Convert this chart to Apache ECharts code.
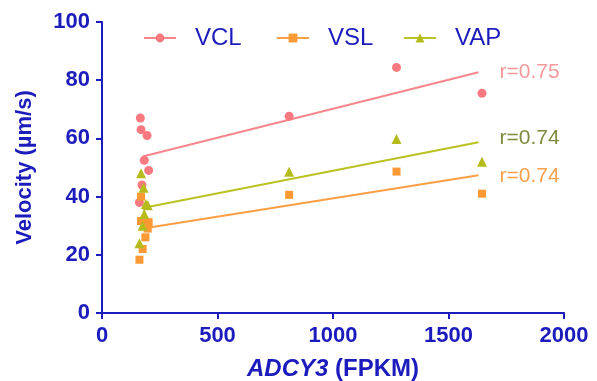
<!DOCTYPE html>
<html>
<head>
<meta charset="utf-8">
<script src="https://cdn.jsdelivr.net/npm/echarts@6/dist/echarts.min.js"></script>
<style>html,body{margin:0;padding:0;background:#fff}#c{width:597px;height:381px}</style>
</head>
<body>
<div id="c"></div>
<script>
const seriesNames = ['VCL', 'VSL', 'VAP'];
const vclPoints = [[166,67],[169,63],[195,61],[183,52.5],[202,49],[173,44],[162,38],[810,67.6],[1275,84.4],[1645,75.5]];
const vslPoints = [[169,40],[169,31.6],[202,31.2],[198,29],[188,26],[176,22],[162,18.3],[810,40.6],[1275,48.6],[1645,41]];
const vapPoints = [[169,48],[180,43],[198,37],[190,37.5],[183,34],[176,30],[162,24],[810,48.5],[1275,59.8],[1645,52]];
const vclFit = [[176,53.8],[1630,82.7]];
const vslFit = [[198,29.3],[1630,47.3]];
const vapFit = [[198,36.4],[1630,58.7]];
const rLabels = { VCL: 'r=0.75', VSL: 'r=0.74', VAP: 'r=0.74' };
const xTicks = { min: 0, max: 2000, interval: 500 };
const yTicks = { min: 0, max: 100, interval: 20 };

const axisColor = '#1c1cbc';
const ptColors = { VCL: '#f8797f', VSL: '#fb9a35', VAP: '#b4bb1a' };
const fitColors = { VCL: '#f7868b', VSL: '#fb9f45', VAP: '#b9c221' };
const rColors = { VCL: '#f59a9c', VSL: '#f7a04e', VAP: '#7f8a3e' };
const symbols = { VCL: 'circle', VSL: 'rect', VAP: 'triangle' };
const symSizes = { VCL: 9, VSL: 8, VAP: 10 };
const points = { VCL: vclPoints, VSL: vslPoints, VAP: vapPoints };
const fits = { VCL: vclFit, VSL: vslFit, VAP: vapFit };
const labelOffsets = { VCL: [0, 0], VSL: [0, 1], VAP: [0, -4] };
const legendLeft = [138, 271, 398];
const FONT = 'Liberation Sans, Arial, sans-serif';

const chart = echarts.init(document.getElementById('c'));
const series = [];
seriesNames.forEach(n => {
  series.push({
    name: n, type: 'line', data: points[n], symbol: symbols[n], symbolSize: symSizes[n],
    showSymbol: true, z: 4,
    itemStyle: { color: ptColors[n] },
    lineStyle: { width: 0, color: fitColors[n], opacity: 0 },
    emphasis: { disabled: true }, animation: false
  });
});
seriesNames.forEach(n => {
  series.push({
    name: n + ' fit', type: 'line', data: fits[n], showSymbol: false, symbol: 'none', z: 2,
    lineStyle: { width: 2, color: fitColors[n] },
    endLabel: { show: true, formatter: rLabels[n], color: rColors[n], fontSize: 21,
      fontFamily: FONT, distance: 21, offset: labelOffsets[n] },
    emphasis: { disabled: true }, animation: false
  });
});

const legends = seriesNames.map((n, i) => ({
  data: [n], left: legendLeft[i], top: 21, orient: 'horizontal',
  itemWidth: 32, itemHeight: 11, selectedMode: false,
  lineStyle: { width: 2, opacity: 1, color: fitColors[n] },
  textStyle: { color: axisColor, fontSize: 24, fontFamily: FONT, padding: [0, 0, 0, 14] }
}));

chart.setOption({
  animation: false,
  grid: { left: 102, right: 33, top: 22, bottom: 68, containLabel: false, outerBoundsMode: 'none' },
  legend: legends,
  xAxis: {
    type: 'value', min: xTicks.min, max: xTicks.max, interval: xTicks.interval,
    name: '{i|ADCY3} (FPKM)', nameLocation: 'middle', nameGap: 44,
    nameTextStyle: { color: axisColor, fontSize: 24, fontWeight: 'bold', fontFamily: FONT,
      rich: { i: { fontStyle: 'italic', fontWeight: 'bold', fontSize: 24, fontFamily: FONT, color: axisColor } } },
    axisLine: { show: true, lineStyle: { color: axisColor, width: 2 } },
    axisTick: { show: true, length: 6, lineStyle: { color: axisColor, width: 2 } },
    axisLabel: { color: axisColor, fontSize: 22, fontWeight: 'bold', fontFamily: FONT, margin: 12,
      formatter: v => String(v) },
    splitLine: { show: false }
  },
  yAxis: {
    type: 'value', min: yTicks.min, max: yTicks.max, interval: yTicks.interval,
    name: 'Velocity (µm/s)', nameLocation: 'middle', nameGap: 66,
    nameTextStyle: { color: axisColor, fontSize: 22, fontWeight: 'bold', fontFamily: FONT },
    axisLine: { show: true, lineStyle: { color: axisColor, width: 2 } },
    axisTick: { show: true, length: 6, lineStyle: { color: axisColor, width: 2 } },
    axisLabel: { color: axisColor, fontSize: 22, fontWeight: 'bold', fontFamily: FONT, margin: 12 },
    splitLine: { show: false }
  },
  series: series
});
</script>
</body>
</html>
